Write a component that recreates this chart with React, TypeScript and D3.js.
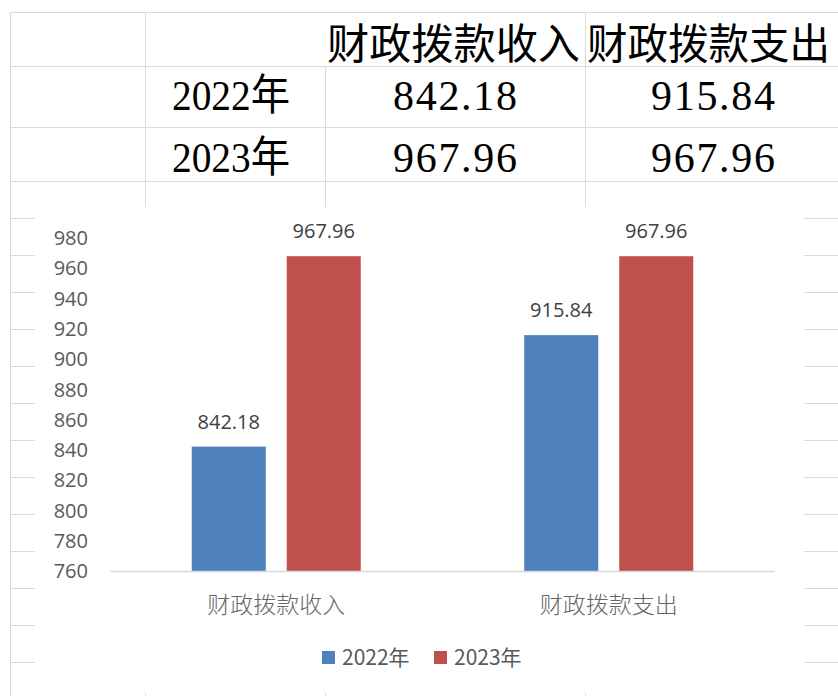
import React from "react";
import * as d3 from "d3";

const categories = ["财政拨款收入", "财政拨款支出"];
const seriesNames = ["2022年", "2023年"];
const values2022 = [842.18, 915.84];
const values2023 = [967.96, 967.96];
const tableRows = [
  { label: "2022年", cells: ["842.18", "915.84"] },
  { label: "2023年", cells: ["967.96", "967.96"] },
];
const yTicks = [760, 780, 800, 820, 840, 860, 880, 900, 920, 940, 960, 980];
const colors = ["#4f81bd", "#c0504d"];

const W = 838;
const H = 696;

export default function App() {
  const y = d3.scaleLinear().domain([760, 980]).range([571, 238]);
  const x0 = d3.scaleBand<string>().domain(categories).range([110, 775]).paddingInner(0).paddingOuter(0);
  const groupW = 169;
  const x1 = d3
    .scaleBand<string>()
    .domain(seriesNames)
    .range([(x0.bandwidth() - groupW) / 2, (x0.bandwidth() + groupW) / 2])
    .paddingInner(0.221)
    .paddingOuter(0);
  const series = [values2022, values2023];

  const gridColor = "#dadada";
  const rowLines = [12, 66, 127, 181, 218, 255, 292, 329, 366, 403, 440, 477, 514, 551, 588, 625, 662];
  const colLines = [
    { x: 10, y0: 12 },
    { x: 145, y0: 12 },
    { x: 325, y0: 66 },
    { x: 585, y0: 12 },
  ];

  const serifFont = '"Liberation Serif", "Noto Sans CJK SC", serif';
  const cjkFont = '"Noto Sans CJK SC", "Noto Sans", sans-serif';
  const numFont = '"Open Sans", "Noto Sans", sans-serif';

  return (
    <div style={{ position: "fixed", left: 0, top: 0 }}>
      <svg width={W} height={H} viewBox={`0 0 ${W} ${H}`} style={{ display: "block", background: "#fff" }}>
        {rowLines.map((ry) => (
          <line key={"r" + ry} x1={10} x2={W} y1={ry + 0.5} y2={ry + 0.5} stroke={gridColor} strokeWidth={1} />
        ))}
        {colLines.map((c) => (
          <line key={"c" + c.x} x1={c.x + 0.5} x2={c.x + 0.5} y1={c.y0} y2={H} stroke={gridColor} strokeWidth={1} />
        ))}
        <text x={327} y={59} fontFamily={serifFont} fontSize={42} fill="#000" textLength={253} lengthAdjust="spacingAndGlyphs">
          {categories[0]}
        </text>
        <text x={587} y={59} fontFamily={serifFont} fontSize={42} fill="#000" textLength={243} lengthAdjust="spacingAndGlyphs">
          {categories[1]}
        </text>
        {tableRows.map((row, i) => {
          const base = i === 0 ? 110 : 172;
          return (
            <g key={row.label}>
              <text x={172} y={base} fontFamily={serifFont} fontSize={43} fill="#000" textLength={118} lengthAdjust="spacingAndGlyphs">
                {row.label}
              </text>
              <text x={455} y={base} textAnchor="middle" fontFamily={serifFont} fontSize={42} fill="#000" textLength={124} lengthAdjust="spacing">
                {row.cells[0]}
              </text>
              <text x={713} y={base} textAnchor="middle" fontFamily={serifFont} fontSize={42} fill="#000" textLength={124} lengthAdjust="spacing">
                {row.cells[1]}
              </text>
            </g>
          );
        })}

        <rect x={35} y={207} width={769} height={486} fill="#fff" />
        {yTicks.map((t) => (
          <text key={t} x={88} y={y(t)} dy="0.36em" textAnchor="end" fontFamily={numFont} fontSize={20} fill="#595959">
            {t}
          </text>
        ))}
        {categories.map((cat, ci) => (
          <g key={cat} transform={`translate(${x0(cat)},0)`}>
            {seriesNames.map((s, si) => {
              const v = series[si][ci];
              const bx = x1(s) as number;
              return (
                <g key={s}>
                  <rect x={bx} y={y(v)} width={x1.bandwidth()} height={y(760) - y(v)} fill={colors[si]} />
                  <text
                    x={bx + x1.bandwidth() / 2}
                    y={y(v) - 18}
                    textAnchor="middle"
                    fontFamily={numFont}
                    fontSize={20}
                    fill="#404040"
                  >
                    {v.toFixed(2)}
                  </text>
                </g>
              );
            })}
          </g>
        ))}
        <line x1={110} x2={775} y1={571.5} y2={571.5} stroke="#d9d9d9" strokeWidth={1.5} />
        {categories.map((cat) => (
          <text
            key={cat}
            x={(x0(cat) as number) + x0.bandwidth() / 2}
            y={613}
            textAnchor="middle"
            fontFamily={cjkFont}
            fontWeight={300}
            fontSize={23}
            fill="#666666"
          >
            {cat}
          </text>
        ))}
        {seriesNames.map((s, i) => {
          const lx = i === 0 ? 322 : 434;
          return (
            <g key={s}>
              <rect x={lx} y={651} width={13} height={13} fill={colors[i]} />
              <text x={lx + 20} y={665} fontFamily={cjkFont} fontSize={21} fill="#595959">
                {s}
              </text>
            </g>
          );
        })}
      </svg>
    </div>
  );
}
